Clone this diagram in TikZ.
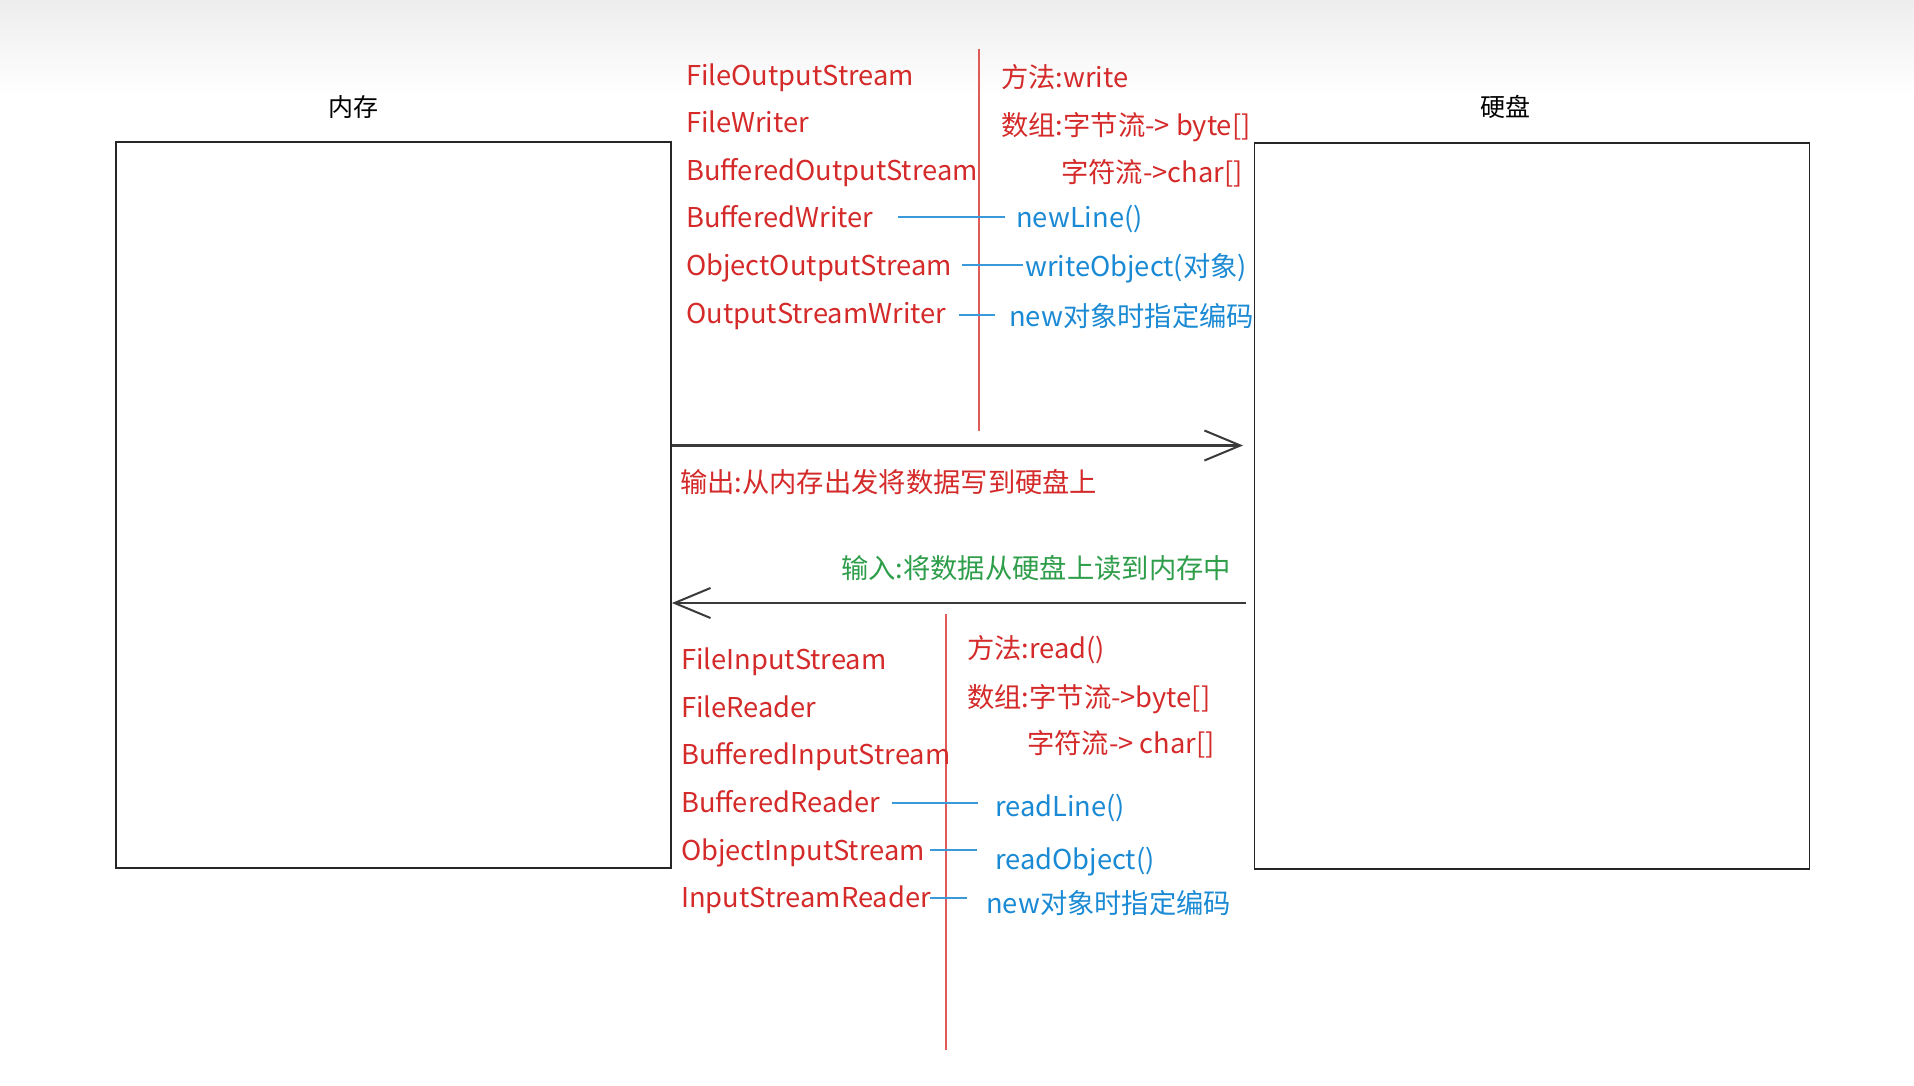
\documentclass[tikz,border=0pt]{standalone}
\usepackage{fontspec}
\setmainfont{Noto Sans CJK SC}
\usetikzlibrary{arrows.meta,calc}
\definecolor{txtred}{HTML}{D42A2A}
\definecolor{lnred}{HTML}{E05A5A}
\definecolor{txtblue}{HTML}{1A8AD4}
\definecolor{lnblue}{HTML}{3A9AD9}
\definecolor{txtgreen}{HTML}{2E9E4A}
\definecolor{arrgray}{HTML}{3A3A3A}
\tikzset{
  box/.style={draw=black!85, line width=1.8pt, minimum width=555pt, minimum height=726pt, inner sep=0pt},
  title/.style={font=\fontsize{25}{28}\selectfont, text=black, inner sep=0pt},
  txt/.style={anchor=mid west, inner sep=0pt, yshift=-8pt, font=\fontsize{27.3}{32}\selectfont},
  cls/.style={txt, text=txtred},
  meth/.style={txt, text=txtblue},
  note/.style={txt, text=txtred},
  innote/.style={txt, text=txtgreen},
  sep/.style={draw=lnred, line width=1.6pt},
  link/.style={draw=lnblue, line width=1.8pt},
  arr/.style={draw=arrgray, line width=2.2pt, -{Straight Barb[length=36pt,width=30pt,line width=2pt]}},
}
\begin{document}
\begin{tikzpicture}[x=1pt,y=-1pt]
\useasboundingbox (0,0) rectangle (1914,1086);
\fill[white] (0,0) rectangle (1914,1086);
\shade[top color=black!7, bottom color=white] (0,0) rectangle (1914,95);

% boxes
\node[box] (mem) at (393.5,505) {};
\node[box] (disk) at (1532,506) {};
\node[title] (memt) at (353,107) {内存};
\node[title] (diskt) at (1505,107) {硬盘};

% output section
\coordinate (s1a) at (979,49);
\coordinate (s1b) at (979,431);
\draw[sep] (s1a) -- (s1b);

\node[cls] (o1) at (686,74.5) {FileOutputStream};
\node[cls] (o2) at (686,122) {FileWriter};
\node[cls] (o3) at (686,170) {BufferedOutputStream};
\node[cls] (o4) at (686,217) {BufferedWriter};
\node[cls] (o5) at (686,265) {ObjectOutputStream};
\node[cls] (o6) at (686,312.5) {OutputStreamWriter};

\node[note] (om1) at (1001,77) {方法:write};
\node[note] (om2) at (1001,124.5) {数组:字节流-> byte[]};
\node[note] (om3) at (1061,172) {字符流->char[]};
\node[meth] (om4) at (1016,217) {newLine()};
\node[meth] (om5) at (1025,266) {writeObject(对象)};
\node[meth] (om6) at (1009,316) {new对象时指定编码};

\coordinate (l1a) at (898,217);  \coordinate (l1b) at (1005,217);
\coordinate (l2a) at (962,265);  \coordinate (l2b) at (1023,265);
\coordinate (l3a) at (959,315);  \coordinate (l3b) at (995,315);
\draw[link] (l1a) -- (l1b);
\draw[link] (l2a) -- (l2b);
\draw[link] (l3a) -- (l3b);

% arrows
\coordinate (a1s) at (mem.east |- 0,445.5);
\coordinate (a1e) at (1243,445.5);
\draw[arr] (a1s) -- (a1e);
\node[note] (outlbl) at (680,482) {输出:从内存出发将数据写到硬盘上};

\node[innote] (inlbl) at (841,568) {输入:将数据从硬盘上读到内存中};
\coordinate (a2s) at (1246,603);
\coordinate (a2e) at (mem.east |- 0,603);
\draw[arr] (a2s) -- (a2e);

% input section
\coordinate (s2a) at (946,614);
\coordinate (s2b) at (946,1050);
\draw[sep] (s2a) -- (s2b);

\node[cls] (i1) at (681,659) {FileInputStream};
\node[cls] (i2) at (681,707) {FileReader};
\node[cls] (i3) at (681,754) {BufferedInputStream};
\node[cls] (i4) at (681,802) {BufferedReader};
\node[cls] (i5) at (681,850) {ObjectInputStream};
\node[cls] (i6) at (681,897) {InputStreamReader};

\node[note] (im1) at (967,648) {方法:read()};
\node[note] (im2) at (967,697) {数组:字节流->byte[]};
\node[note] (im3) at (1027,743) {字符流-> char[]};
\node[meth] (im4) at (995,806) {readLine()};
\node[meth] (im5) at (995,859) {readObject()};
\node[meth] (im6) at (986,903) {new对象时指定编码};

\coordinate (l4a) at (892,803);  \coordinate (l4b) at (978,803);
\coordinate (l5a) at (930,850);  \coordinate (l5b) at (977,850);
\coordinate (l6a) at (930,898);  \coordinate (l6b) at (967,898);
\draw[link] (l4a) -- (l4b);
\draw[link] (l5a) -- (l5b);
\draw[link] (l6a) -- (l6b);
\end{tikzpicture}
\end{document}
